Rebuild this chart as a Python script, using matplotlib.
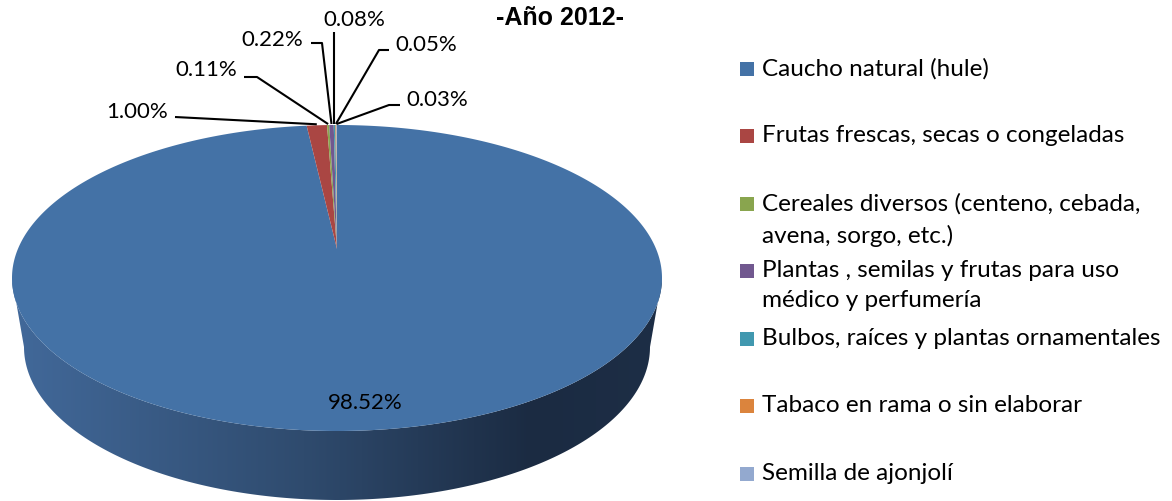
import numpy as np
import matplotlib
matplotlib.use("Agg")
import matplotlib.pyplot as plt
from matplotlib.patches import Polygon, Rectangle
from matplotlib.colors import LinearSegmentedColormap

# data
categories = ["Caucho natural (hule)",
              "Frutas frescas, secas o congeladas",
              "Cereales diversos (centeno, cebada,\navena, sorgo, etc.)",
              "Plantas , semilas y frutas para uso\nmédico y perfumería",
              "Bulbos, raíces y plantas ornamentales",
              "Tabaco en rama o sin elaborar",
              "Semilla de ajonjolí"]
values = [98.52, 1.00, 0.11, 0.22, 0.08, 0.05, 0.03]
labels = ["98.52%", "1.00%", "0.11%", "0.22%", "0.08%", "0.05%", "0.03%"]
colors = ["#4472A6", "#AA4643", "#89A54E", "#71588F", "#4198AF", "#DB843D", "#93A9CF"]
title = "-Año 2012-"

# geometry (pixels)
W, H = 1172, 502
cx, cy, rx, ry = 337, 279, 325, 153      # top face
bcx, bcy, brx, bry = 337, 348, 313, 153  # bottom face
apex = (337, 250)
font = "Lato"


def ell(t, c=(cx, cy), r=(rx, ry)):
    t = np.radians(t)
    return np.column_stack([c[0] + r[0] * np.sin(t), c[1] - r[1] * np.cos(t)])


fig = plt.figure(figsize=(W / 100, H / 100), dpi=100)
ax = fig.add_axes([0, 0, 1, 1])
ax.set_xlim(0, W)
ax.set_ylim(H, 0)
ax.axis("off")

# side wall with gradient
tt = np.linspace(90, 270, 200)
wall = np.vstack([ell(tt), ell(tt[::-1], (bcx, bcy), (brx, bry))])
wall_patch = Polygon(wall, closed=True, facecolor="none", edgecolor="none")
ax.add_patch(wall_patch)
cmap = LinearSegmentedColormap.from_list(
    "wall", [(0, "#42699A"), (0.45, "#2F4B6E"), (0.8, "#1B2B42"), (1, "#1D2E46")])
grad = np.linspace(0, 1, 256).reshape(1, -1)
im = ax.imshow(grad, cmap=cmap, extent=[cx - rx, cx + rx, H, 200], aspect="auto", zorder=1)
im.set_clip_path(wall_patch)

# top face wedges
frac = np.array(values) / sum(values)
edges = np.concatenate([[0], np.cumsum(frac) * 360])
mids = []
for i in range(len(values)):
    a0, a1 = edges[i], edges[i + 1]
    pts = ell(np.linspace(a0, a1, max(3, int((a1 - a0) * 2))))
    ax.add_patch(Polygon(np.vstack([[apex], pts]), closed=True,
                         facecolor=colors[i], edgecolor="none", zorder=2))
    mids.append((a0 + a1) / 2)

# big label
ax.text(365, 403, labels[0], ha="center", va="center", fontsize=16, family=font, zorder=5)

# small labels with leader lines
lab_pos = [(137, 112), (206, 70), (272, 40), (354, 20), (426, 45), (437, 100)]
elbows = [None, (257, 78), (322, 44), None, (379, 51), (389, 106)]
starts = [(175, 118), (244, 78), (311, 44), (334, 33), (389, 51), (400, 106)]
for k in range(1, len(values)):
    end = ell(np.array([mids[k]]))[0]
    end[1] -= 1
    pts = [starts[k - 1]]
    if elbows[k - 1] is not None:
        pts.append(elbows[k - 1])
    if k == 4:
        end = (starts[k - 1][0], end[1])
    pts.append(end)
    pts = np.array(pts)
    ax.plot(pts[:, 0], pts[:, 1], color="black", lw=1.5, zorder=4, solid_capstyle="butt")
    ax.text(lab_pos[k - 1][0], lab_pos[k - 1][1], labels[k], ha="center", va="center",
            fontsize=16, family=font, zorder=5)

# title
ax.text(560, 18, title, ha="center", va="center", fontsize=18, fontweight="bold",
        family="Liberation Sans")

# legend
leg_y = [70, 137, 205, 272, 340, 407, 475]
for i, name in enumerate(categories):
    ax.add_patch(Rectangle((740, leg_y[i] - 7), 14, 14, facecolor=colors[i], edgecolor="none"))
    ax.text(762, leg_y[i] - 12, name, ha="left", va="top", fontsize=17.5, family=font,
            linespacing=1.55)

fig.savefig("out.png", dpi=100)
